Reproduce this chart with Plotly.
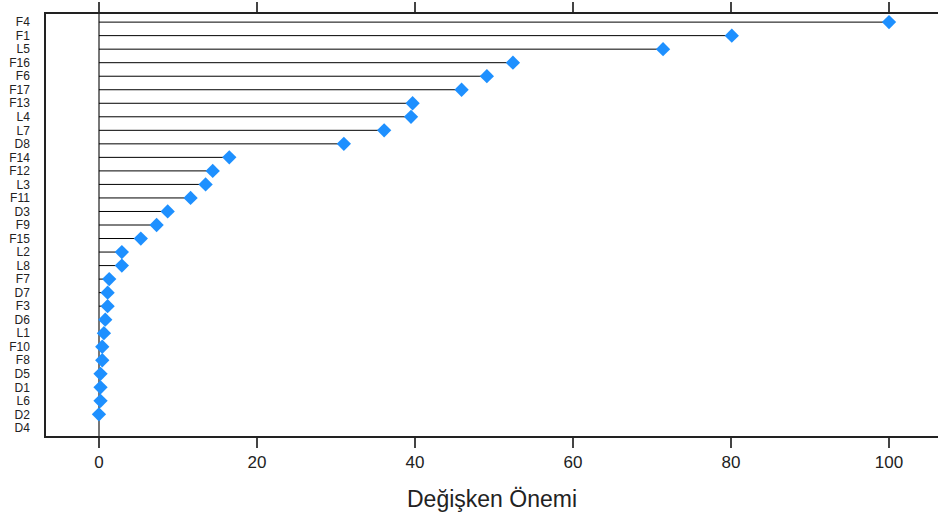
import plotly.graph_objects as go

categories = ["F4", "F1", "L5", "F16", "F6", "F17", "F13", "L4", "L7", "D8",
              "F14", "F12", "L3", "F11", "D3", "F9", "F15", "L2", "L8", "F7",
              "D7", "F3", "D6", "L1", "F10", "F8", "D5", "D1", "L6", "D2", "D4"]
importance = [100, 80.1, 71.4, 52.4, 49.1, 45.9, 39.7, 39.5, 36.1, 31.0,
              16.5, 14.4, 13.5, 11.6, 8.7, 7.3, 5.3, 2.9, 2.9, 1.3,
              1.1, 1.1, 0.8, 0.63, 0.42, 0.42, 0.2, 0.2, 0.2, 0.0, None]
x_ticks = [0, 20, 40, 60, 80, 100]
x_title = "Değişken Önemi"

# stems from 0 to each value
sx, sy = [], []
for c, v in zip(categories, importance):
    if v is None:
        continue
    sx += [0, v, None]
    sy += [c, c, None]

fig = go.Figure()
fig.add_trace(go.Scatter(x=sx, y=sy, mode="lines",
                         line=dict(color="black", width=1),
                         hoverinfo="skip", showlegend=False))
fig.add_trace(go.Scatter(x=importance, y=categories, mode="markers",
                         marker=dict(symbol="diamond", size=11, color="#1E90FF",
                                     line=dict(width=0)),
                         showlegend=False))

font_family = "Liberation Sans, Arial, sans-serif"
fig.update_layout(
    width=938, height=519,
    margin=dict(l=46, r=0, t=14, b=83),
    paper_bgcolor="white", plot_bgcolor="white",
    font=dict(family=font_family, color="#222"),
    xaxis=dict(range=[-6.7, 106.2], tickvals=x_ticks, ticktext=[str(t) for t in x_ticks],
               showgrid=False, zeroline=True, zerolinecolor="#777", zerolinewidth=2,
               showline=True, linecolor="#222", linewidth=1.5, mirror="ticks",
               ticks="outside", ticklen=10, tickwidth=2, tickcolor="#444",
               tickfont=dict(size=17, color="#222"),
               title=dict(text=x_title, font=dict(size=23, color="#222"), standoff=20)),
    yaxis=dict(categoryorder="array", categoryarray=categories,
               tickmode="array", tickvals=categories, ticktext=categories,
               autorange=False, range=[30.6, -0.6],
               showgrid=False, zeroline=False,
               showline=True, linecolor="#222", linewidth=1.5, mirror=False,
               ticks="", ticklabelstandoff=12,
               tickfont=dict(size=12, color="#222")),
)
fig.write_html("out.html")
